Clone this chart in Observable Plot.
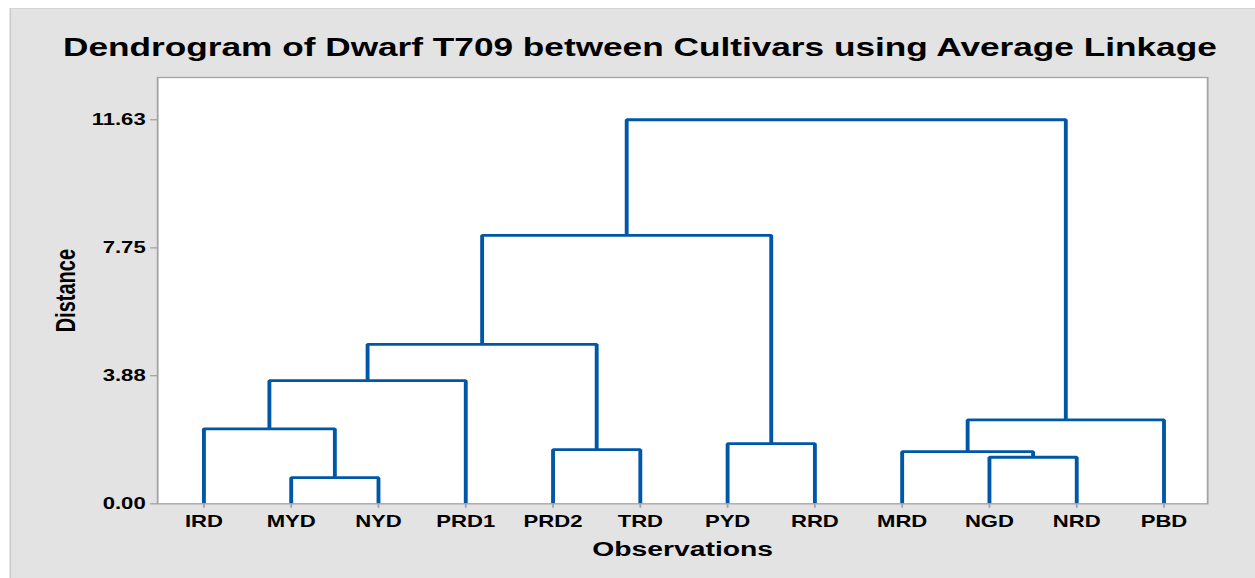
<!DOCTYPE html>
<html>
<head>
<meta charset="utf-8">
<script src="https://cdn.jsdelivr.net/npm/d3@7"></script>
<script src="https://cdn.jsdelivr.net/npm/@observablehq/plot@0.6"></script>
<style>
  html, body { margin: 0; padding: 0; background: #ffffff; width: 1255px; height: 578px; overflow: hidden; }
  #stage { position: absolute; left: 0; top: 0; width: 909px; height: 578px; transform: scaleX(1.38064); transform-origin: 0 0; font-family: "Liberation Sans", Arial, sans-serif; }
  #panel { position: absolute; left: 7.2px; top: 8px; width: 901.8px; height: 570px; background: #e3e3e3; border-left: 1.5px solid #c9c9c9; border-top: 1px solid #d4d4d4; box-sizing: border-box; }
  #title { position: absolute; left: 0; top: 34.5px; width: 927px; text-align: center; font-size: 25.5px; line-height: 1; font-weight: bold; color: #000; white-space: nowrap; }
  #chart { position: absolute; left: 0; top: 60px; }
</style>
</head>
<body>
<div id="stage">
  <div id="panel"></div>
  <div id="title">Dendrogram of Dwarf T709 between Cultivars using Average Linkage</div>
  <div id="chart"></div>
</div>
<script>
// Leaves (observations) in dendrogram order
const leaves = ["IRD", "MYD", "NYD", "PRD1", "PRD2", "TRD", "PYD", "RRD", "MRD", "NGD", "NRD", "PBD"];
// Merge steps: cluster C(k+1) joins mergeA[k] and mergeB[k] at mergeHeight[k]
const mergeA = ["MYD", "IRD", "C2", "PRD2", "C3", "PYD", "C5", "NGD", "MRD", "C9", "C7"];
const mergeB = ["NYD", "C1", "PRD1", "TRD", "C4", "RRD", "C6", "NRD", "C8", "PBD", "C10"];
const mergeHeight = [0.79, 2.27, 3.73, 1.64, 4.83, 1.82, 8.13, 1.41, 1.58, 2.54, 11.63];
// Y-axis tick values
const yTicks = [0, 3.88, 7.75, 11.63];
const xLabel = "Observations";
const yLabel = "Distance";

// Build link paths
const pos = {};
leaves.forEach((n, i) => pos[n] = {x: i, y: 0});
const segs = [];
mergeA.forEach((a, k) => {
  const id = "C" + (k + 1);
  const A = pos[a], B = pos[mergeB[k]], h = mergeHeight[k];
  pos[id] = {x: (A.x + B.x) / 2, y: h};
  segs.push({x: A.x, y: A.y, g: id}, {x: A.x, y: h, g: id}, {x: B.x, y: h, g: id}, {x: B.x, y: B.y, g: id});
});

const chart = Plot.plot({
  width: 909,
  height: 518,
  marginLeft: 113.7,
  marginRight: 34.8,
  marginTop: 17,
  marginBottom: 74.7,
  style: {background: "transparent", fontFamily: "'Liberation Sans', Arial, sans-serif", fontSize: "16px", fontWeight: "bold", color: "#000", overflow: "visible"},
  x: {type: "linear", domain: [-0.53, 11.5], axis: null},
  y: {type: "linear", domain: [0, 12.91], axis: null},
  marks: [
    Plot.frame({fill: "#ffffff", stroke: null}),
    Plot.line(segs, {x: "x", y: "y", z: "g", stroke: "#0057a8", strokeWidth: 2.8, strokeLinejoin: "miter", strokeLinecap: "butt"}),
    Plot.frame({stroke: "#a3a3a3", strokeWidth: 1.3}),
    Plot.axisY({ticks: yTicks, tickFormat: d => d.toFixed(2), tickSize: 5, tickPadding: 3.7, stroke: "#a3a3a3", fill: "#000", strokeWidth: 1.3, fontSize: 16, fontWeight: "bold", label: null}),
    Plot.axisX({ticks: leaves.map((d, i) => i), tickFormat: i => leaves[i], tickSize: 4.5, tickPadding: 7.5, stroke: "#a3a3a3", fill: "#000", strokeWidth: 1.3, fontSize: 16, fontWeight: "bold", label: null}),
    Plot.text([xLabel], {text: d => d, frameAnchor: "bottom", dy: 52, fontSize: 20.5, fontWeight: "bold", fill: "#000"}),
    Plot.text([yLabel], {text: d => d, frameAnchor: "left", textAnchor: "middle", dx: -66.6, rotate: -90, fontSize: 20, fontWeight: "bold", fill: "#000"})
  ]
});
document.getElementById("chart").appendChild(chart);
</script>
</body>
</html>
